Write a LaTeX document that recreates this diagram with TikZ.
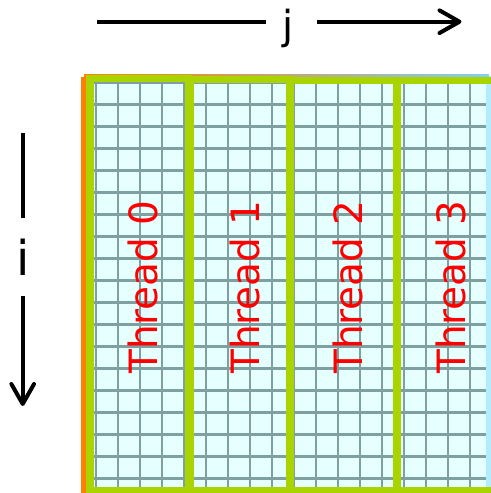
\documentclass[tikz,border=0pt]{standalone}
\usepackage{fontspec}
\setmainfont{DejaVu Sans}
\usetikzlibrary{arrows.meta}

\definecolor{cellfill}{RGB}{230,255,255}
\definecolor{gridline}{RGB}{127,160,160}
\definecolor{threadgreen}{RGB}{170,212,0}
\definecolor{edgeorange}{RGB}{255,128,0}
\definecolor{edgeblue}{RGB}{128,208,240}
\definecolor{edgecyan}{RGB}{176,238,255}

\tikzset{
  cellgrid/.style={draw=gridline, line width=2pt},
  threadbox/.style={draw=threadgreen, line width=5.5pt},
  threadlabel/.style={text=red, rotate=90, anchor=base, inner sep=0pt,
    font=\fontsize{29.25}{35}\selectfont},
  axisline/.style={draw=black, line width=3pt},
  axistip/.style={-{Straight Barb[length=15pt,width=17pt,round]}},
  axislabel/.style={anchor=base, inner sep=0pt}
}

\begin{document}
\begin{tikzpicture}[x=0.75pt, y=-0.75pt]
\useasboundingbox (0,0) rectangle (491,493);
\clip (0,0) rectangle (491,493);

% matrix body with its cell grid
\fill[cellfill] (84,76) rectangle (489,493);
\begin{scope}
  \clip (84,76) rectangle (489,493);
  \foreach \gx in {0,...,17}
    \draw[cellgrid] (96+22*\gx,76) -- (96+22*\gx,493);
  \foreach \gy in {0,...,18}
    \draw[cellgrid] (84,82.3+22*\gy) -- (489,82.3+22*\gy);
\end{scope}

% matrix outline: light blue on the right, orange on the left,
% blending from one to the other along the top
\fill[edgecyan] (486,76) rectangle (491,493);
\fill[edgecyan] (84,488) rectangle (491,490.5);
\shade[left color=edgeorange, right color=edgeblue] (84,74.2) rectangle (489,78.2);
\fill[edgeorange] (81,77) rectangle (87,493);
\fill[edgeorange] (84,74.2) rectangle (87,78);

% one column block per thread
\draw[threadbox] (90,78.4) rectangle (188.7,491);
\draw[threadbox] (190,79.2) rectangle (289.5,491);
\draw[threadbox] (290.5,80.8) rectangle (397,491);
\draw[threadbox] (397,80.8) rectangle (496,491);

\node[threadlabel] (t0) at (157.5,287) {Thread 0};
\node[threadlabel] (t1) at (259.5,287) {Thread 1};
\node[threadlabel] (t2) at (362,287) {Thread 2};
\node[threadlabel] (t3) at (465.5,287) {Thread 3};

% column index j
\node[axislabel, font=\fontsize{30}{36}\selectfont] (jlab) at (288,39.9) {j};
\coordinate (jfrom) at (97,21.7);
\coordinate (jgap1) at (266,21.7);
\coordinate (jgap2) at (317,21.7);
\coordinate (jto) at (461.5,21.7);
\draw[axisline] (jfrom) -- (jgap1);
\draw[axisline, axistip] (jgap2) -- (jto);

% row index i
\node[axislabel, font=\fontsize{36}{43}\selectfont] (ilab) at (22.7,275) {i};
\coordinate (ifrom) at (22.7,133);
\coordinate (igap1) at (22.7,217.7);
\coordinate (igap2) at (22.7,296);
\coordinate (ito) at (22.7,406);
\draw[axisline] (ifrom) -- (igap1);
\draw[axisline, axistip] (igap2) -- (ito);
\end{tikzpicture}
\end{document}
